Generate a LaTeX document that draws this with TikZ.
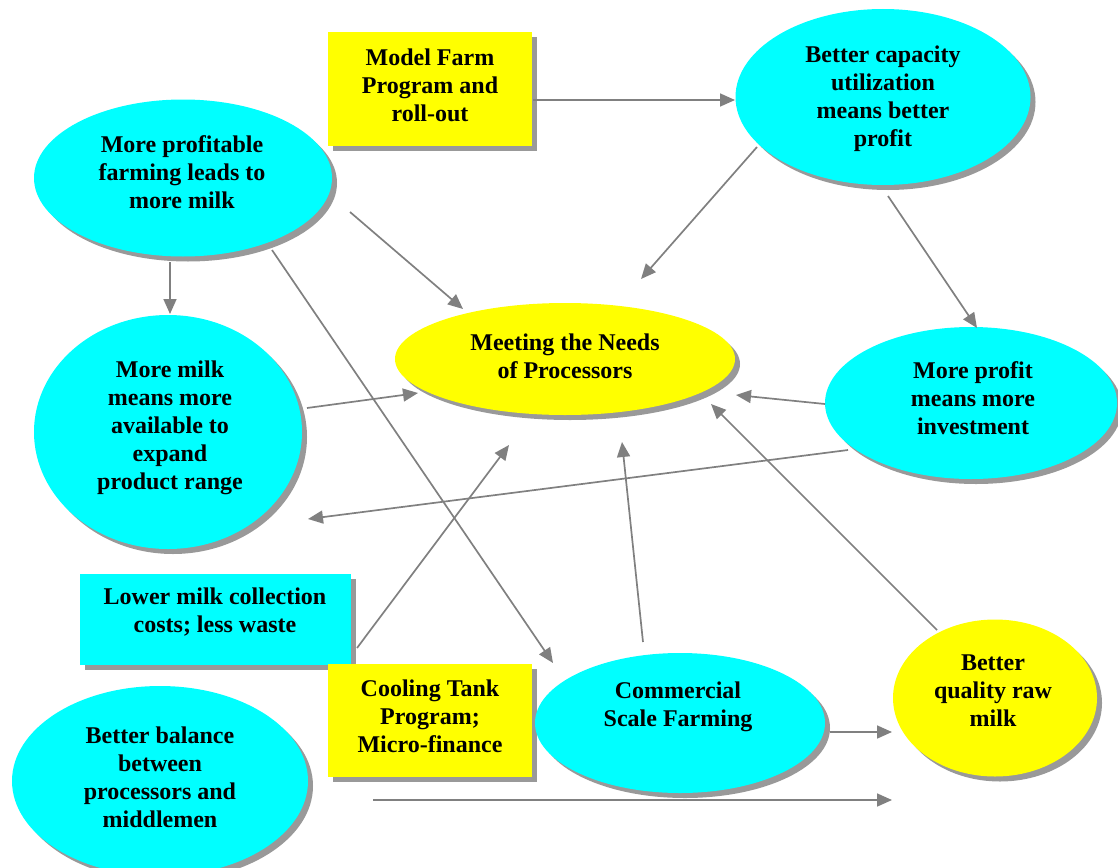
\documentclass[tikz,border=0pt]{standalone}
\usepackage{fontspec}
\setmainfont{Liberation Serif}
\usetikzlibrary{shapes.geometric,shadows,arrows.meta}
\definecolor{cy}{HTML}{00FFFF}
\definecolor{ye}{HTML}{FFFF00}
\definecolor{ln}{HTML}{808080}
\definecolor{sh}{HTML}{999999}
\begin{document}
\begin{tikzpicture}[x=1pt,y=-1pt,
  shade/.style={drop shadow={shadow xshift=5pt,shadow yshift=-5pt,fill=sh,opacity=1}},
  bub/.style={ellipse,inner sep=0pt,shade},
  boxn/.style={rectangle,inner sep=0pt,shade},
  txt/.style={align=center,inner sep=0pt,font=\bfseries\fontsize{24}{28}\selectfont},
  conn/.style={draw=ln,line width=1.7pt,-{Triangle[length=15pt,width=13pt]}}]
\useasboundingbox (0,0) rectangle (1118,867);

% shapes
\node[boxn,fill=ye,minimum width=204pt,minimum height=114pt] (mf) at (430,89) {};
\node[bub,fill=cy,minimum width=295pt,minimum height=176pt] (cap) at (883,97) {};
\node[bub,fill=cy,minimum width=298pt,minimum height=157pt] (prof) at (183,178) {};
\node[bub,fill=ye,minimum width=340pt,minimum height=112pt] (meet) at (565,359) {};
\node[bub,fill=cy,minimum width=268pt,minimum height=234pt] (milk) at (168,432) {};
\node[bub,fill=cy,minimum width=292pt,minimum height=152pt] (inv) at (971,403) {};
\node[boxn,fill=cy,minimum width=271pt,minimum height=91pt] (low) at (215,619) {};
\node[boxn,fill=ye,minimum width=204pt,minimum height=113pt] (cool) at (430,720) {};
\node[bub,fill=cy,minimum width=290pt,minimum height=140pt] (com) at (680,723) {};
\node[bub,fill=ye,minimum width=204pt,minimum height=157pt] (qual) at (995,698) {};
\node[bub,fill=cy,minimum width=296pt,minimum height=190pt] (bal) at (160,781) {};

% texts
\node[txt] (mf-t)   at (430,85)  {Model Farm\\Program and\\roll-out};
\node[txt] (cap-t)  at (883,99)  {Better capacity\\utilization\\means better\\profit};
\node[txt] (prof-t) at (182,172) {More profitable\\farming leads to\\more milk};
\node[txt] (meet-t) at (565,356) {Meeting the Needs\\of Processors};
\node[txt] (milk-t) at (170,428) {More milk\\means more\\available to\\expand\\product range};
\node[txt] (inv-t)  at (973,398) {More profit\\means more\\investment};
\node[txt] (low-t)  at (215,612) {Lower milk collection\\costs; less waste};
\node[txt] (cool-t) at (430,716) {Cooling Tank\\Program;\\Micro-finance};
\node[txt] (com-t)  at (678,707) {Commercial\\Scale Farming};
\node[txt] (qual-t) at (993,691) {Better\\quality raw\\milk};
\node[txt] (bal-t)  at (160,777) {Better balance\\between\\processors and\\middlemen};

% connector end points
\coordinate (a1) at (533,100);   \coordinate (a2) at (735,100);
\coordinate (b1) at (757,147);   \coordinate (b2) at (641,279);
\coordinate (c1) at (888,196);   \coordinate (c2) at (977,328);
\coordinate (d1) at (350,212);   \coordinate (d2) at (463,309);
\coordinate (e1) at (170,262);   \coordinate (e2) at (170,314);
\coordinate (f1) at (272,250);   \coordinate (f2) at (553,663);
\coordinate (g1) at (307,408);   \coordinate (g2) at (418,393);
\coordinate (h1) at (825,404);   \coordinate (h2) at (736,395);
\coordinate (i1) at (848,450);   \coordinate (i2) at (308,519);
\coordinate (j1) at (357,648);   \coordinate (j2) at (509,445);
\coordinate (k1) at (643,642);   \coordinate (k2) at (622,442);
\coordinate (l1) at (937,630);   \coordinate (l2) at (711,404);
\coordinate (m1) at (830,732);   \coordinate (m2) at (892,732);
\coordinate (n1) at (373,800);   \coordinate (n2) at (892,800);

% connectors
\draw[conn] (a1) -- (a2);
\draw[conn] (b1) -- (b2);
\draw[conn] (c1) -- (c2);
\draw[conn] (d1) -- (d2);
\draw[conn] (e1) -- (e2);
\draw[conn] (f1) -- (f2);
\draw[conn] (g1) -- (g2);
\draw[conn] (h1) -- (h2);
\draw[conn] (i1) -- (i2);
\draw[conn] (j1) -- (j2);
\draw[conn] (k1) -- (k2);
\draw[conn] (l1) -- (l2);
\draw[conn] (m1) -- (m2);
\draw[conn] (n1) -- (n2);
\end{tikzpicture}
\end{document}
